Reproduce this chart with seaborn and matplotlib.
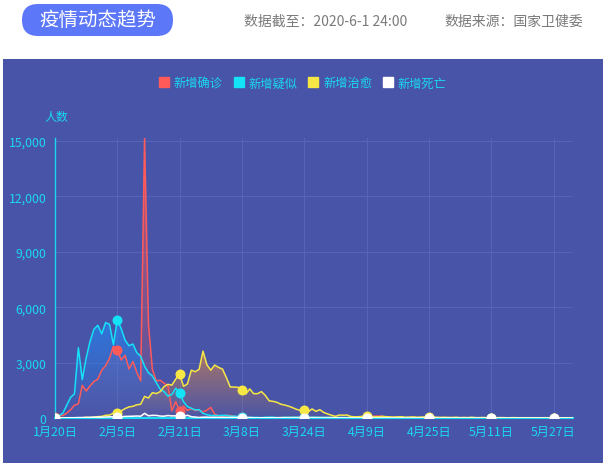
import numpy as np
import pandas as pd
import matplotlib
matplotlib.use('Agg')
import matplotlib.pyplot as plt
import seaborn as sns
from matplotlib.patches import FancyBboxPatch, Rectangle
from matplotlib.lines import Line2D

# daily figures, 2020-01-20 .. 2020-06-01 (one value per day)
confirmed = [
    77, 149, 131, 259, 444, 688, 769, 1771, 1459, 1737, 1982, 2102,
    2590, 2829, 3235, 3887, 3694, 3143, 3399, 2656, 3062, 2478,
    2015, 15152, 5090, 2641, 2009, 2048, 1886, 1749, 394, 889,
    397, 648, 409, 508, 406, 433, 327, 427, 573,
    202, 125, 119, 139, 143, 99, 44, 40, 19, 24,
    15, 8, 11, 20, 16, 21, 13, 34, 39, 41,
    46, 39, 78, 47, 67, 55, 54, 45, 31, 48, 36,
    35, 31, 19, 30, 39, 32, 62, 63, 42, 46,
    99, 108, 89, 46, 26, 27, 27, 16, 12, 11,
    30, 10, 10, 6, 11, 3, 6, 22, 4, 12,
    2, 1, 2, 3, 1, 2, 4, 1, 14, 17,
    1, 7, 3, 4, 5, 8, 7, 6, 5, 2,
    4, 3, 2, 11, 7, 7, 1, 2, 4, 4, 2,
    16,
]
suspected = [
    27, 120, 257, 680, 1118, 1309, 3806, 2077, 3248, 4148, 4812, 5019,
    4562, 5173, 5072, 3971, 5328, 4833, 4214, 3916, 4008, 3536,
    3342, 2807, 2450, 2277, 1918, 1563, 1432, 1185, 1277, 1614,
    1361, 882, 620, 530, 439, 452, 248, 177, 132,
    141, 129, 143, 143, 102, 99, 84, 60, 36, 31,
    33, 33, 17, 39, 45, 45, 21, 23, 45, 35,
    45, 47, 38, 40, 33, 45, 42, 35, 40, 30, 26,
    32, 28, 26, 24, 35, 21, 40, 34, 38, 33,
    40, 55, 56, 37, 17, 13, 20, 25, 20, 16,
    14, 11, 8, 6, 10, 7, 5, 4, 6, 5,
    3, 2, 3, 2, 4, 3, 2, 4, 6, 5,
    3, 2, 3, 4, 5, 3, 2, 4, 3, 2,
    3, 2, 1, 3, 2, 1, 2, 3, 2, 1, 2,
    3,
]
cured = [
    0, 0, 3, 6, 4, 11, 2, 9, 43, 21, 47, 72,
    85, 147, 157, 262, 261, 387, 510, 600, 632, 716,
    744, 1171, 1081, 1373, 1323, 1425, 1701, 1824, 1779, 2109,
    2393, 1715, 1846, 2590, 2509, 2636, 3622, 2885, 2589,
    2867, 2742, 2652, 2189, 1681, 1678, 1661, 1535, 1297, 1578,
    1318, 1318, 1430, 1223, 930, 900, 850, 746, 701, 640,
    560, 470, 415, 430, 340, 490, 360, 450, 300, 220, 150,
    90, 160, 150, 160, 80, 60, 70, 90, 100, 80,
    70, 60, 90, 70, 60, 50, 60, 70, 40, 50,
    60, 40, 50, 60, 50, 60, 40, 30, 40, 30,
    30, 40, 20, 30, 20, 40, 20, 20, 30, 10,
    20, 20, 15, 20, 10, 15, 20, 10, 15, 10,
    10, 15, 10, 10, 15, 10, 5, 10, 10, 5, 10,
    5,
]
deaths = [
    3, 3, 8, 8, 16, 15, 24, 26, 26, 38, 43, 46,
    45, 57, 64, 65, 73, 73, 86, 89, 97, 108,
    97, 254, 121, 143, 142, 105, 98, 136, 114, 118,
    109, 97, 150, 71, 52, 29, 44, 47, 35,
    42, 31, 38, 31, 30, 28, 27, 22, 17, 22,
    11, 7, 13, 10, 14, 13, 11, 8, 3, 7,
    6, 9, 7, 4, 6, 5, 3, 5, 4, 1, 7,
    6, 4, 4, 3, 1, 1, 0, 2, 2, 3,
    0, 2, 0, 0, 0, 0, 0, 0, 0, 0,
    0, 0, 0, 0, 0, 0, 0, 0, 0, 0,
    0, 0, 0, 0, 0, 0, 0, 0, 0, 0,
    0, 0, 0, 0, 0, 0, 0, 0, 0, 0,
    0, 0, 0, 0, 0, 0, 0, 0, 0, 0, 0,
    0,
]

series_names = ['新增确诊', '新增疑似', '新增治愈', '新增死亡']
dates = pd.date_range('2020-01-20', '2020-06-01', freq='D')
date_labels = [f'{d.month}月{d.day}日' for d in dates]
yticks = [0, 3000, 6000, 9000, 12000, 15000]
ytick_labels = ['0', '3,000', '6,000', '9,000', '12,000', '15,000']

BG = '#4854a8'
GRID = '#5663b6'
CYAN = '#1ad8f2'
line_colors = ['#ff5a5a', '#14e2f7', '#f6e745', '#ffffff']
fill_colors = [(1.0, 0.33, 0.33), (0.12, 0.56, 1.0), (0.92, 0.55, 0.24), (1.0, 1.0, 1.0)]
fill_alpha = [0.65, 0.6, 0.6, 0.25]

sns.set_style('white')
plt.rcParams['font.family'] = ['Noto Sans CJK SC', 'DejaVu Sans']

fig = plt.figure(figsize=(6.08, 4.64), dpi=100)

# background layer in pixel coordinates
bg = fig.add_axes([0, 0, 1, 1])
bg.set_xlim(0, 608)
bg.set_ylim(464, 0)
bg.axis('off')
bg.add_patch(Rectangle((3, 60), 600, 404, color=BG, lw=0))
bg.add_patch(FancyBboxPatch((22, 5), 151, 32, boxstyle='round,pad=0,rounding_size=16',
                            fc='#5c77f7', ec='none'))
bg.text(97.5, 21, '疫情动态趋势', color='white', fontsize=14, ha='center', va='center')
bg.text(244, 22, '数据截至：2020-6-1 24:00', color='#7a7a7a', fontsize=10, va='center')
bg.text(444, 22, '数据来源：国家卫健委', color='#7a7a7a', fontsize=10, va='center')
bg.text(56, 117, '人数', color=CYAN, fontsize=8.6, ha='center', va='center')

ax = fig.add_axes([55 / 608, 1 - 419 / 464, 518 / 608, (419 - 139.3) / 464])
ax.patch.set_alpha(0)

x = np.arange(len(dates))
data = [confirmed, suspected, cured, deaths]

for i, (vals, lc) in enumerate(zip(data, line_colors)):
    y = np.array(vals, dtype=float)
    # gradient area under each line (top of series -> transparent at 0)
    poly = ax.fill_between(x, y, 0, facecolor='none', edgecolor='none')
    grad = np.zeros((200, 1, 4))
    grad[:, :, :3] = fill_colors[i]
    grad[:, 0, 3] = np.linspace(0.02, fill_alpha[i], 200)
    im = ax.imshow(grad, aspect='auto', origin='lower', interpolation='bilinear',
                   extent=[x.min(), x.max(), 0, max(y.max(), 1)], zorder=1.5 + i * 0.1)
    im.set_clip_path(poly.get_paths()[0], transform=ax.transData)
    sns.lineplot(x=x, y=y, ax=ax, color=lc, lw=1.1, errorbar=None,
                 marker='o', markevery=16, markersize=7.2, markeredgewidth=0,
                 zorder=3 + i)

ax.set_xlim(0, len(dates) - 1)
ax.set_ylim(0, 15152)
tick_idx = list(range(0, len(dates), 16))
ax.set_xticks(tick_idx)
ax.set_xticklabels([date_labels[k] for k in tick_idx])
ax.set_yticks(yticks)
ax.set_yticklabels(ytick_labels)
ax.set_xlabel('')
ax.set_ylabel('')
ax.grid(True, color=GRID, lw=0.8)
ax.set_axisbelow(True)
ax.tick_params(axis='both', length=0, labelcolor=CYAN, labelsize=8.8)
ax.tick_params(axis='y', pad=6)
ax.tick_params(axis='x', pad=5)
for s in ['top', 'right']:
    ax.spines[s].set_visible(False)
ax.spines['left'].set_color(CYAN)
ax.spines['left'].set_linewidth(1)
ax.spines['bottom'].set_color(CYAN)
ax.spines['bottom'].set_linewidth(1.5)
ax.spines['bottom'].set_zorder(2.5)

handles = [Line2D([0], [0], marker='s', ls='', ms=7.5, mfc=c, mec=c) for c in line_colors]
fig.legend(handles, series_names, loc='center', bbox_to_anchor=(303 / 608, 1 - 84 / 464),
           ncol=4, frameon=False, handlelength=0.8, handletextpad=0.4,
           columnspacing=0.9, fontsize=8.8, labelcolor=CYAN)

fig.savefig('out.png', dpi=100)
